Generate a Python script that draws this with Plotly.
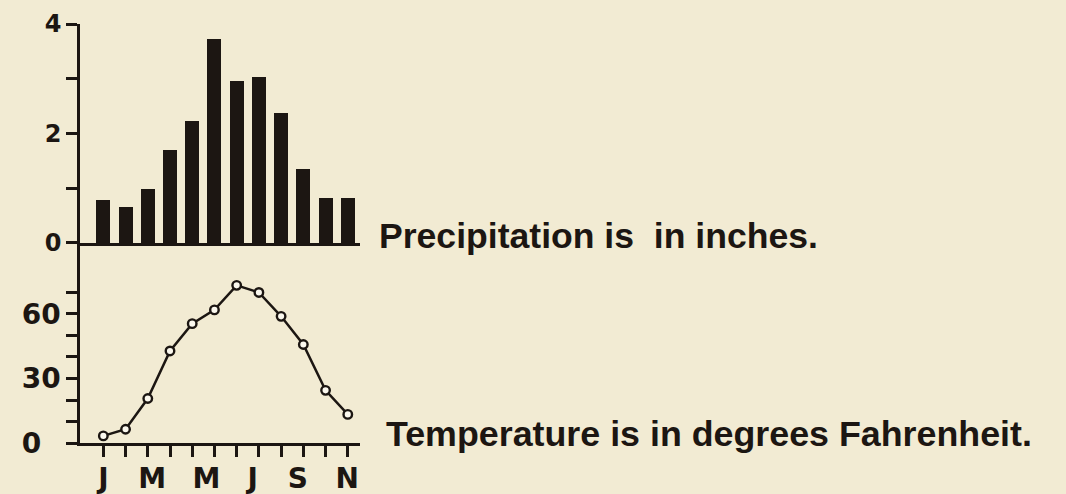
import plotly.graph_objects as go

months = list(range(1, 13))
precip_in = [0.79, 0.66, 0.99, 1.70, 2.23, 3.72, 2.95, 3.04, 2.38, 1.36, 0.82, 0.82]
temp_f = [3.3, 6.4, 20.7, 42.8, 55.5, 61.9, 73.3, 70.0, 58.9, 45.8, 24.5, 13.3]
month_labels = ["J", "M", "M", "J", "S", "N"]
month_label_pos = [1.0, 3.2, 5.64, 7.72, 9.75, 11.97]
precip_ticks = [0, 1, 2, 3, 4]
precip_ticktext = ["0", "", "2", "", "4"]
temp_ticks = [0, 10, 20, 30, 40, 50, 60, 70]
temp_ticktext = ["0\u2007", "", "", "30", "", "", "60", ""]

BG = "#f2ebd3"
INK = "#1c1612"
XR = [-0.05, 12.55]

fig = go.Figure()
fig.add_trace(go.Bar(x=months, y=precip_in, width=0.63, marker=dict(color=INK, line=dict(width=0)),
                     xaxis="x", yaxis="y", showlegend=False, hoverinfo="skip"))
fig.add_trace(go.Scatter(x=months, y=temp_f, mode="lines+markers",
                         line=dict(color=INK, width=2.5),
                         marker=dict(symbol="circle", size=8.5, color="#fbf8ee",
                                     line=dict(color=INK, width=2.4)),
                         xaxis="x2", yaxis="y2", showlegend=False))
# invisible carrier so the month-label axis is drawn
fig.add_trace(go.Scatter(x=month_label_pos, y=[0] * len(month_label_pos), mode="markers",
                         marker=dict(size=1, color="rgba(0,0,0,0)"),
                         xaxis="x3", yaxis="y2", showlegend=False, hoverinfo="skip"))

tickfont_top = dict(family="DejaVu Sans", size=24, color=INK, weight="bold")
tickfont_bot = dict(family="DejaVu Sans", size=28, color=INK, weight="bold")

fig.update_layout(
    width=1066, height=494,
    margin=dict(l=80, r=706, t=0, b=0, autoexpand=False),
    paper_bgcolor=BG, plot_bgcolor=BG,
    bargap=0,
    xaxis=dict(domain=[0, 1], anchor="y", range=XR, showline=True, linewidth=3, linecolor=INK,
               showgrid=False, zeroline=False, ticks="", showticklabels=False),
    yaxis=dict(domain=[0.5081, 0.9514], anchor="x", range=[0, 4], showline=True, linewidth=2.5,
               linecolor=INK, showgrid=False, zeroline=False, ticks="outside", ticklen=11,
               tickwidth=2.5, tickcolor=INK, tickvals=precip_ticks, ticktext=precip_ticktext,
               tickfont=tickfont_top),
    xaxis2=dict(domain=[0, 1], anchor="y2", range=XR, showline=True, linewidth=2.5, linecolor=INK,
                showgrid=False, zeroline=False, ticks="outside", ticklen=11, tickwidth=2.5,
                tickcolor=INK, tickvals=months, showticklabels=False),
    xaxis3=dict(domain=[0, 1], anchor="y2", overlaying="x2", range=XR, showline=False,
                showgrid=False, zeroline=False, ticks="outside", ticklen=10,
                tickcolor="rgba(0,0,0,0)", tickvals=month_label_pos, ticktext=month_labels,
                tickfont=tickfont_bot),
    yaxis2=dict(domain=[0.1032, 0.5081], anchor="x2", range=[0, 93.0], showline=True, linewidth=2.5,
                linecolor=INK, showgrid=False, zeroline=False, ticks="outside", ticklen=11,
                tickwidth=2.5, tickcolor=INK, tickvals=temp_ticks, ticktext=temp_ticktext,
                tickfont=tickfont_bot),
    annotations=[
        dict(text="Precipitation is\u00a0 in inches.", xref="paper", yref="paper",
             x=1.062, y=0.522, xanchor="left", yanchor="middle", showarrow=False,
             font=dict(family="Liberation Sans", size=35.6, color=INK, weight="bold")),
        dict(text="Temperature is in degrees Fahrenheit.", xref="paper", yref="paper",
             x=1.084, y=0.121, xanchor="left", yanchor="middle", showarrow=False,
             font=dict(family="Liberation Sans", size=35.8, color=INK, weight="bold")),
    ],
)

fig.write_html("out.html", config={"displayModeBar": False},
               post_script="document.body.style.margin='0';document.body.style.background='#f2ebd3';")
